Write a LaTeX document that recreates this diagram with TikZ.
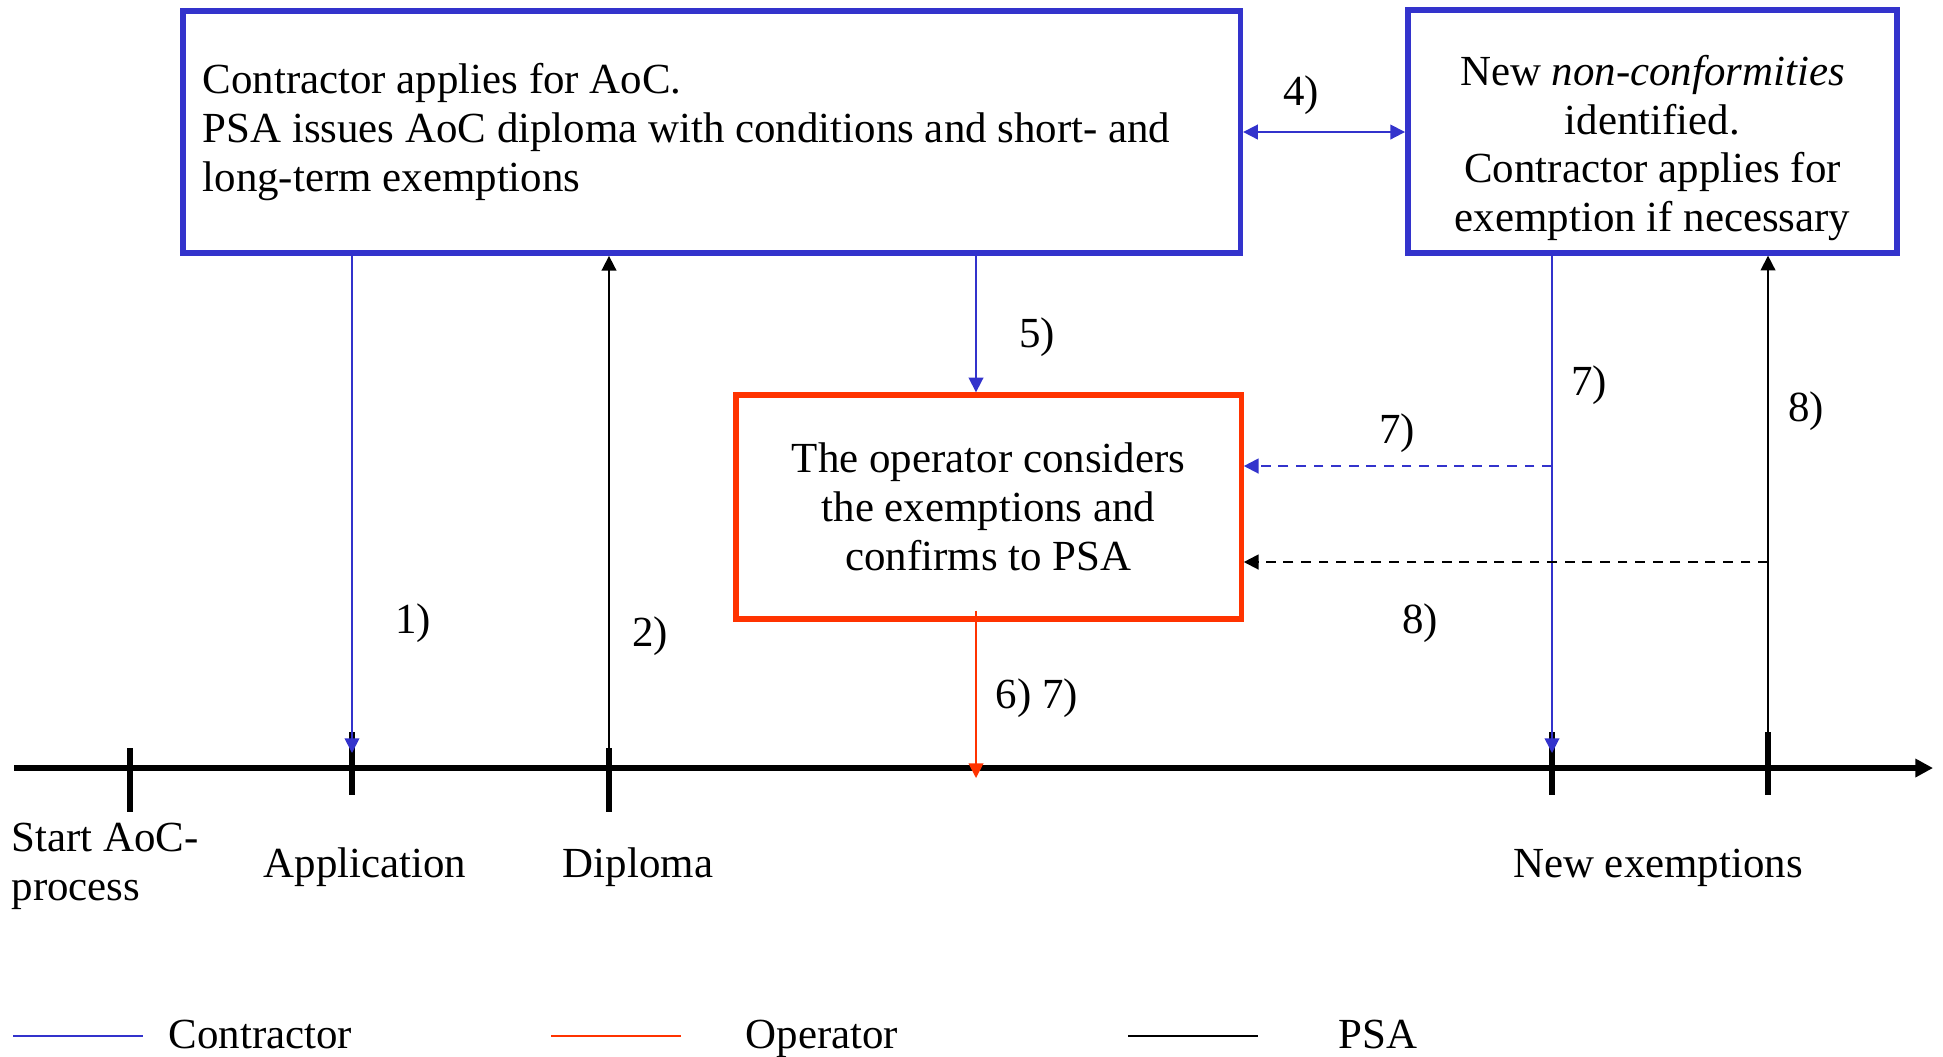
\documentclass[tikz,border=0pt]{standalone}
\usepackage{fontspec}
\setmainfont{Liberation Serif}
\usetikzlibrary{calc}
\usetikzlibrary{arrows.meta}
\definecolor{aocblue}{HTML}{3333CC}
\definecolor{aocred}{HTML}{FF3300}
\tikzset{
  bluebox/.style={draw=aocblue, line width=1.6pt},
  redbox/.style={draw=aocred, line width=1.5pt},
  contractor/.style={aocblue, line width=.5pt},
  operator/.style={aocred, line width=.5pt},
  psa/.style={black, line width=.5pt},
  tip/.style={-{Triangle[length=4.2pt,width=4.2pt]}},
  tick/.style={black, line width=1.7pt},
  dashline/.style={dash pattern=on 2.8pt off 2.2pt, line width=.6pt}
}
\begin{document}
\begin{tikzpicture}[x=.01cm, y=-.01cm, font=\fontsize{12.2}{13.9}\selectfont]
\useasboundingbox (0,0) rectangle (1943,1056);

\node[bluebox, minimum width=10.57cm, minimum height=2.42cm, inner xsep=.2cm, text width=10.17cm, align=flush left] (aoc) at (711.5,132) {Contractor applies for AoC.\\PSA issues AoC diploma with conditions and short- and\\long-term exemptions};
\node[bluebox, minimum width=4.89cm, minimum height=2.39cm, align=center] (ncf) at (1652.5,131.5) {\rule{0pt}{18pt}New \textit{non-conformities}\\identified.\\Contractor applies for\\exemption if necessary};
\node[redbox, minimum width=5.05cm, minimum height=2.24cm, align=center] (opr) at (988.5,507) {The operator considers\\the exemptions and\\confirms to PSA};

\foreach \n/\x in {t0/14, tStart/130, tApp/352, tDip/609, tOp/976, tNew/1552, tPSA/1768, tEnd/1933} \coordinate (\n) at (\x,768);
\draw[line width=1.7pt, -{Triangle[length=5pt,width=5pt]}] (t0) -- (tEnd);
\foreach \n/\a/\b in {tStart/20/44, tApp/36/27, tDip/20/44, tNew/36/27, tPSA/36/27} \draw[tick] ($(\n)+(0,-\a)$) -- ($(\n)+(0,\b)$);

\draw[contractor, tip, shorten >=.15cm] (aoc.south -| tApp) -- (tApp);
\draw[psa, tip] ($(tDip)+(0,-20)$) -- (aoc.south -| tDip);
\draw[contractor, tip] (aoc.south -| tOp) -- (opr.north -| tOp);
\draw[contractor, {Triangle[length=4.2pt,width=4.2pt]}-{Triangle[length=4.2pt,width=4.2pt]}] (aoc.east) -- (aoc.east -| ncf.west);
\draw[operator, tip, shorten <=-.11cm] (opr.south -| tOp) -- ($(tOp)+(0,10)$);
\draw[contractor, tip, shorten >=.15cm] (ncf.south -| tNew) -- (tNew);
\draw[psa, tip] ($(tPSA)+(0,-36)$) -- (ncf.south -| tPSA);
\coordinate (j7) at (1552,466);
\coordinate (j8) at (1768,562);
\draw[contractor, dashline, tip] (j7) -- (j7 -| opr.east);
\draw[psa, dashline, tip] (j8) -- (j8 -| opr.east);

\foreach \n/\x/\y/\t in {l1/413/623/1), l2/650/636/2), l4/1301/95/4), l5/1037/337/5), l67/1037/698/6) 7), l7a/1589/385/7), l7b/1397/433/7), l8a/1806/411/8), l8b/1420/623/8)} \node (\n) at (\x,\y) {\t};

\node[anchor=base west, align=left, inner sep=0pt] (lStart) at (11,900) {Start AoC-\\process};
\node[anchor=base, inner sep=0pt] (lApp) at (365,877) {Application};
\node[anchor=base, inner sep=0pt] (lDip) at (638,877) {Diploma};
\node[anchor=base, inner sep=0pt] (lNew) at (1658,877) {New exemptions};

\foreach \n/\c/\x/\xt in {Contractor/contractor/13/168, Operator/operator/551/745, PSA/psa/1128/1338} {
  \draw[\c] (\x,1036) -- ++(130,0);
  \node[anchor=base west, inner sep=0pt] (lg\n) at (\xt,1048) {\n};
}
\end{tikzpicture}
\end{document}
